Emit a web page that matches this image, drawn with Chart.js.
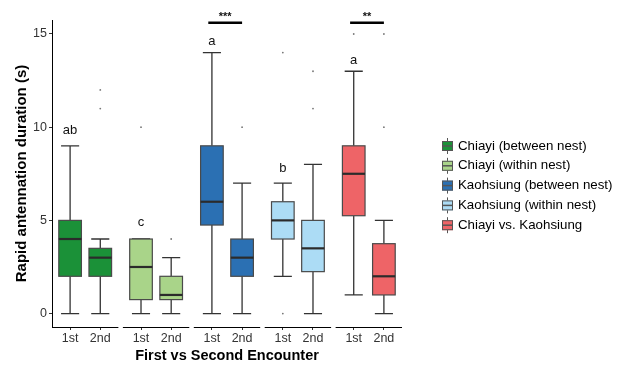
<!DOCTYPE html>
<html>
<head>
<meta charset="utf-8">
<script src="https://cdn.jsdelivr.net/npm/chart.js@4.4.1/dist/chart.umd.min.js"></script>
<style>
  html, body { margin: 0; padding: 0; background: #fff; }
  canvas { display: block; }
</style>
</head>
<body>
<canvas id="box" width="625" height="367"></canvas>
<script>
// groups (facets) and encounters
const groups = [
  'Chiayi (between nest)',
  'Chiayi (within nest)',
  'Kaohsiung (between nest)',
  'Kaohsiung (within nest)',
  'Chiayi vs. Kaohsiung',
];
const encounters = ['1st', '2nd'];
const groupColors = ['#1b9138', '#a9d489', '#2b70b3', '#acdcf5', '#ee6467'];

// box stats, two per group (1st, 2nd)
const whiskerLow  = [0, 0,    0, 0,      0, 0,    2, 0,     1, 0];
const q1          = [2, 2,    0.75, 0.75, 4.75, 2, 4, 2.25,  5.25, 1];
const median      = [4, 3,    2.5, 1,    6, 3,    5, 3.5,   7.5, 2];
const q3          = [5, 3.5,  4, 2,      9, 4,    6, 5,     9, 3.75];
const whiskerHigh = [9, 4,    4, 3,      14, 7,   7, 8,     13, 5];
const outliers    = [[], [12, 11], [10], [4], [], [10], [0, 14], [11, 13], [15], [15, 10]];

// letters over the 1st box of each group
const letters = ['ab', 'c', 'a', 'b', 'a'];
const letterY = [9.8, 4.9, 14.6, 7.8, 13.6];

// significance brackets
const sigGroups = [2, 4];
const sigText = ['***', '**'];
const sigY = 15.6;

const yTicks = [0, 5, 10, 15];

// facet layout in x units
const facetW = 2.2, facetGap = 0.15;
function facetStart(g) { return g * (facetW + facetGap); }
function boxX(i) { return facetStart(Math.floor(i / 2)) + 0.6 + (i % 2); }
const xTicks = groups.flatMap((g, gi) => [boxX(gi * 2), boxX(gi * 2 + 1)]);

const outlierPoints = [];
outliers.forEach((arr, i) => arr.forEach(v => outlierPoints.push({x: boxX(i), y: v})));

const FONT = '"Liberation Sans", Arial, sans-serif';

const boxPlugin = {
  id: 'boxes',
  beforeDatasetsDraw(chart) {
    const {ctx, scales: {x, y}} = chart;
    ctx.save();
    for (let i = 0; i < median.length; i++) {
      const cx = x.getPixelForValue(boxX(i));
      const hw = x.getPixelForValue(boxX(i) + 0.375) - cx;
      const cw = x.getPixelForValue(boxX(i) + 0.3) - cx;
      const col = groupColors[Math.floor(i / 2)];
      // whiskers
      ctx.strokeStyle = '#333';
      ctx.lineWidth = 1.3;
      ctx.beginPath();
      ctx.moveTo(cx, y.getPixelForValue(whiskerLow[i]));
      ctx.lineTo(cx, y.getPixelForValue(q1[i]));
      ctx.moveTo(cx, y.getPixelForValue(q3[i]));
      ctx.lineTo(cx, y.getPixelForValue(whiskerHigh[i]));
      ctx.moveTo(cx - cw, y.getPixelForValue(whiskerLow[i]));
      ctx.lineTo(cx + cw, y.getPixelForValue(whiskerLow[i]));
      ctx.moveTo(cx - cw, y.getPixelForValue(whiskerHigh[i]));
      ctx.lineTo(cx + cw, y.getPixelForValue(whiskerHigh[i]));
      ctx.stroke();
      // box
      const top = y.getPixelForValue(q3[i]);
      const bot = y.getPixelForValue(q1[i]);
      ctx.fillStyle = col;
      ctx.fillRect(cx - hw, top, hw * 2, bot - top);
      ctx.strokeStyle = '#4a4a4a';
      ctx.lineWidth = 1.2;
      ctx.strokeRect(cx - hw, top, hw * 2, bot - top);
      // median
      ctx.strokeStyle = '#2b2b2b';
      ctx.lineWidth = 2.2;
      ctx.beginPath();
      const my = y.getPixelForValue(median[i]);
      ctx.moveTo(cx - hw, my);
      ctx.lineTo(cx + hw, my);
      ctx.stroke();
    }
    ctx.restore();
  },
  afterDraw(chart) {
    const {ctx, scales: {x, y}, chartArea} = chart;
    ctx.save();
    // facet axis lines
    ctx.strokeStyle = '#000';
    ctx.lineWidth = 1;
    groups.forEach((g, gi) => {
      ctx.beginPath();
      ctx.moveTo(x.getPixelForValue(facetStart(gi)), chartArea.bottom + 0.5);
      ctx.lineTo(x.getPixelForValue(facetStart(gi) + facetW), chartArea.bottom + 0.5);
      ctx.stroke();
    });
    // letters
    ctx.fillStyle = '#111';
    ctx.font = '13px ' + FONT;
    ctx.textAlign = 'center';
    ctx.textBaseline = 'middle';
    letters.forEach((t, gi) => {
      ctx.fillText(t, x.getPixelForValue(boxX(gi * 2)), y.getPixelForValue(letterY[gi]));
    });
    // significance bars
    sigGroups.forEach((gi, k) => {
      const x1 = x.getPixelForValue(boxX(gi * 2) - 0.12);
      const x2 = x.getPixelForValue(boxX(gi * 2 + 1));
      const yy = y.getPixelForValue(sigY);
      ctx.strokeStyle = '#000';
      ctx.lineWidth = 2.5;
      ctx.beginPath();
      ctx.moveTo(x1, yy);
      ctx.lineTo(x2, yy);
      ctx.stroke();
      ctx.font = 'bold 11px ' + FONT;
      ctx.fillText(sigText[k], (x1 + x2) / 2, yy - 6);
    });
    // legend
    const lx = 442, ly = 146, step = 19.8;
    groups.forEach((g, gi) => {
      const cy = ly + gi * step;
      ctx.strokeStyle = '#555';
      ctx.lineWidth = 1;
      ctx.beginPath();
      ctx.moveTo(lx + 5.5, cy - 8);
      ctx.lineTo(lx + 5.5, cy + 8);
      ctx.stroke();
      ctx.fillStyle = groupColors[gi];
      ctx.fillRect(lx, cy - 5, 11, 10);
      ctx.strokeRect(lx + 0.5, cy - 4.5, 10, 9);
      ctx.lineWidth = 1.5;
      ctx.beginPath();
      ctx.moveTo(lx, cy);
      ctx.lineTo(lx + 11, cy);
      ctx.stroke();
      ctx.fillStyle = '#000';
      ctx.font = '13.3px ' + FONT;
      ctx.textAlign = 'left';
      ctx.fillText(g, lx + 16, cy);
    });
    ctx.restore();
  }
};

const config_box = {
  type: 'scatter',
  data: {
    datasets: [{
      data: outlierPoints,
      pointRadius: 0.9,
      backgroundColor: '#777',
      borderWidth: 0,
    }]
  },
  options: {
    responsive: false,
    animation: false,
    layout: { padding: { top: 20, right: 223, left: 0, bottom: 0 } },
    plugins: {
      legend: { display: false },
      tooltip: { enabled: false },
    },
    scales: {
      x: {
        type: 'linear',
        min: 0,
        max: facetStart(groups.length - 1) + facetW,
        afterBuildTicks: s => { s.ticks = xTicks.map(v => ({value: v})); },
        afterFit: s => { s.height = 40; },
        ticks: {
          callback: (v, i) => encounters[i % 2],
          font: { size: 12.5, family: FONT },
          color: '#333',
          padding: 1,
          autoSkip: false,
          maxRotation: 0,
        },
        grid: { drawOnChartArea: false, tickLength: 3, color: '#333' },
        border: { display: false },
        title: {
          display: true,
          text: 'First vs Second Encounter',
          font: { size: 14.5, weight: 'bold', family: FONT },
          color: '#000',
          padding: { top: 0, bottom: 2 },
        },
      },
      y: {
        min: -0.72,
        max: 15.75,
        afterBuildTicks: s => { s.ticks = yTicks.map(v => ({value: v})); },
        afterFit: s => { s.width = 52; },
        ticks: {
          font: { size: 12.5, family: FONT },
          color: '#333',
          padding: 2,
        },
        grid: { drawOnChartArea: false, tickLength: 3, color: '#333' },
        border: { display: true, color: '#000', width: 1 },
        title: {
          display: true,
          text: 'Rapid antennation duration (s)',
          font: { size: 15, weight: 'bold', family: FONT },
          color: '#000',
          padding: { top: 13, bottom: 0 },
        },
      },
    },
  },
  plugins: [boxPlugin],
};

const myBox = new Chart(document.getElementById('box'), config_box);
</script>
</body>
</html>
